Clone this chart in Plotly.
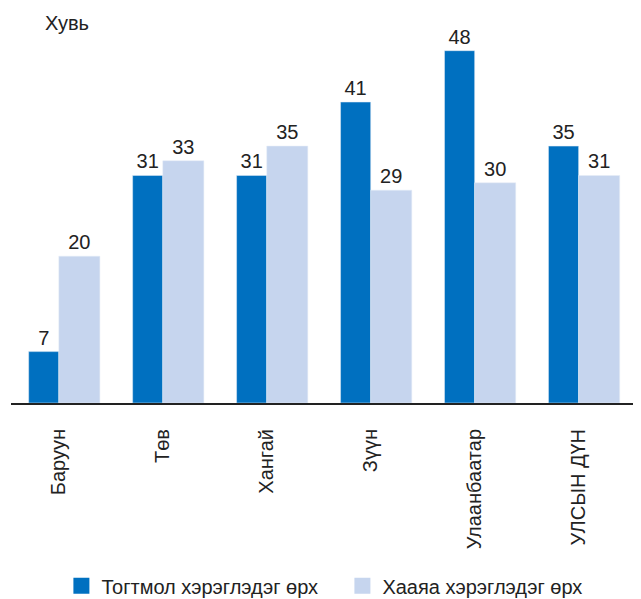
import plotly.graph_objects as go

categories = ["Баруун", "Төв", "Хангай", "Зүүн", "Улаанбаатар", "УЛСЫН ДҮН"]
regular = [7, 31, 31, 41, 48, 35]
occasional = [20, 33, 35, 29, 30, 31]
series_names = ["Тогтмол хэрэглэдэг өрх", "Хааяа хэрэглэдэг өрх"]
dark = "#0070C0"
light = "#C6D5EE"
font_family = "Liberation Sans, Arial, sans-serif"
fs = 20

fig = go.Figure()
fig.add_trace(go.Bar(
    x=categories, y=regular, name=series_names[0], marker_color=dark,
    width=0.29, offset=-0.29, text=regular, textposition="outside",
    textfont=dict(size=fs, color="#222222", family=font_family),
    cliponaxis=False, showlegend=False))
fig.add_trace(go.Bar(
    x=categories, y=occasional, name=series_names[1], marker_color=light,
    width=0.395, offset=0, text=occasional, textposition="outside",
    textfont=dict(size=fs, color="#222222", family=font_family),
    cliponaxis=False, showlegend=False))
# legend entries
for nm, col in zip(series_names, [dark, light]):
    fig.add_trace(go.Scatter(x=[None], y=[None], mode="markers", name=nm,
                             marker=dict(symbol="square", size=22, color=col)))

fig.update_layout(
    width=633, height=591,
    margin=dict(l=3, r=0, t=28, b=196, autoexpand=False),
    plot_bgcolor="white", paper_bgcolor="white",
    font=dict(family=font_family, size=fs, color="#222222"),
    barmode="overlay",
    xaxis=dict(range=[-0.46, 5.6], showline=True, linecolor="#222222", linewidth=2,
               tickangle=-90, ticks="", ticklabelstandoff=16, automargin=False,
               tickfont=dict(size=fs, color="#222222")),
    yaxis=dict(range=[0, 50], showgrid=False, showticklabels=False, zeroline=False,
               showline=False, automargin=False),
    legend=dict(orientation="h", x=0.08, xanchor="left", y=-0.498, yanchor="middle",
                font=dict(size=fs, color="#222222"), entrywidth=236,
                itemsizing="trace"),
    annotations=[dict(text="Хувь", x=0.05, xref="paper", y=1.0, yref="paper",
                      xanchor="left", yanchor="bottom",
                      showarrow=False, font=dict(size=fs, color="#222222"))],
)
fig.write_html("out.html")
